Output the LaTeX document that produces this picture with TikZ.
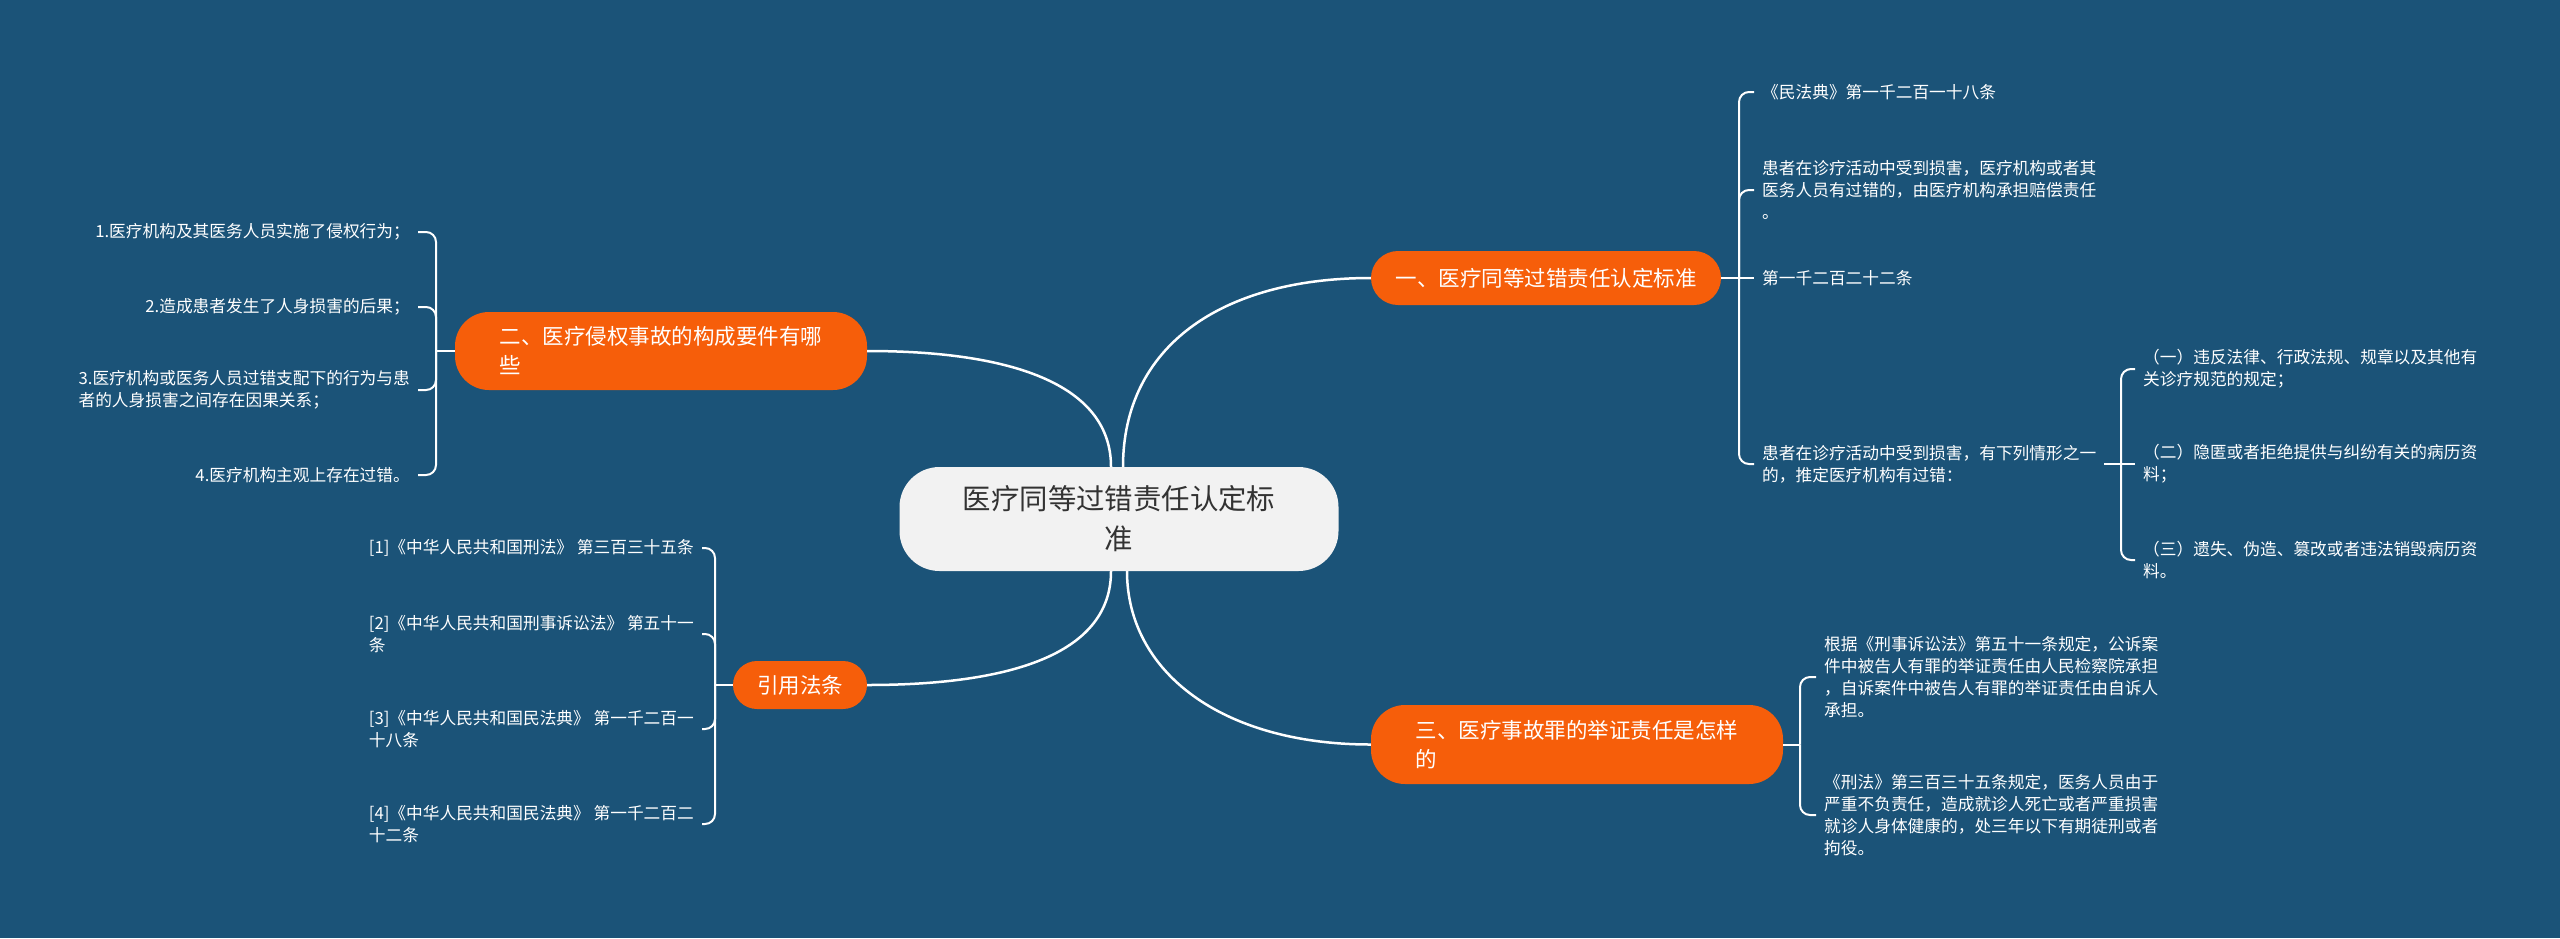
\documentclass[tikz,border=0pt]{standalone}
\usepackage{fontspec}
\setmainfont{Noto Sans CJK SC}
\usetikzlibrary{calc}
\definecolor{bg}{RGB}{27,83,120}
\definecolor{org}{RGB}{246,94,10}
\definecolor{ctr}{RGB}{242,242,242}
\definecolor{ctrtext}{RGB}{51,51,51}
\tikzset{
  root/.style={fill=ctr, text=ctrtext, rounded corners=40pt, minimum width=439pt, minimum height=104pt, align=center, inner sep=0pt, font=\fontsize{28.4}{40}\selectfont},
  topic/.style={fill=org, text=white, align=left, inner sep=0pt, font=\fontsize{21.5}{29}\selectfont},
  leaf/.style={text=white, align=left, inner xsep=8pt, inner ysep=2pt, font=\fontsize{16.7}{22}\selectfont},
  mainline/.style={draw=white, line width=2.5pt},
  brline/.style={draw=white, line width=2pt, rounded corners=10pt},
}
\begin{document}
\begin{tikzpicture}[x=1pt,y=-1pt]
\fill[bg] (0,0) rectangle (2560,938);
\useasboundingbox (0,0) rectangle (2560,938);

% central and main topics
\node[root] (c) at (1119,519) {医疗同等过错责任认定标\\准};
\node[topic, minimum width=350pt, minimum height=54pt, rounded corners=27pt] (t1) at (1546,278) {一、医疗同等过错责任认定标准};
\node[topic, minimum width=412pt, minimum height=78pt, rounded corners=34pt] (t2) at (661,351) {二、医疗侵权事故的构成要件有哪\\些};
\node[topic, minimum width=134pt, minimum height=48pt, rounded corners=24pt] (t4) at (800,685) {引用法条};
\node[topic, minimum width=412pt, minimum height=79pt, rounded corners=34pt] (t3) at (1577,744.5) {三、医疗事故罪的举证责任是怎样\\的};

\draw[mainline] ([xshift=4pt]c.north) .. controls +(0,-120) and +(-150,0) .. (t1.west);
\draw[mainline] ([xshift=-8pt]c.north) .. controls +(0,-80) and +(150,0) .. (t2.east);
\draw[mainline] ([xshift=-8pt]c.south) .. controls +(0,80) and +(150,0) .. (t4.east);
\draw[mainline] ([xshift=8pt]c.south) .. controls +(0,100) and +(-150,0) .. (t3.west);

% branch one
\coordinate (j1) at (1739,278);
\node[leaf, anchor=west] (a1) at (1754,92) {《民法典》第一千二百一十八条};
\node[leaf, anchor=west] (a2) at (1754,190) {患者在诊疗活动中受到损害，医疗机构或者其\\医务人员有过错的，由医疗机构承担赔偿责任\\。};
\node[leaf, anchor=west] (a3) at (1754,278) {第一千二百二十二条};
\node[leaf, anchor=west] (a4) at (1754,464) {患者在诊疗活动中受到损害，有下列情形之一\\的，推定医疗机构有过错：};
\draw[brline] (t1.east) -- (j1);
\draw[brline] (j1) |- (a1.west);
\draw[brline] (j1) |- (a2.west);
\draw[brline] (j1) -- (a3.west);
\draw[brline] (j1) |- (a4.west);

\coordinate (j2) at (2121,464);
\node[leaf, anchor=west] (b1) at (2135,369) {（一）违反法律、行政法规、规章以及其他有\\关诊疗规范的规定；};
\node[leaf, anchor=west] (b2) at (2135,464) {（二）隐匿或者拒绝提供与纠纷有关的病历资\\料；};
\node[leaf, anchor=west] (b3) at (2135,560) {（三）遗失、伪造、篡改或者违法销毁病历资\\料。};
\draw[brline] (a4.east) -- (j2);
\draw[brline] (j2) |- (b1.west);
\draw[brline] (j2) -- (b2.west);
\draw[brline] (j2) |- (b3.west);

% branch three
\coordinate (j3) at (1800,744.5);
\node[leaf, anchor=west] (d1) at (1816,677) {根据《刑事诉讼法》第五十一条规定，公诉案\\件中被告人有罪的举证责任由人民检察院承担\\，自诉案件中被告人有罪的举证责任由自诉人\\承担。};
\node[leaf, anchor=west] (d2) at (1816,815) {《刑法》第三百三十五条规定，医务人员由于\\严重不负责任，造成就诊人死亡或者严重损害\\就诊人身体健康的，处三年以下有期徒刑或者\\拘役。};
\draw[brline] (t3.east) -- (j3);
\draw[brline] (j3) |- (d1.west);
\draw[brline] (j3) |- (d2.west);

% branch two
\coordinate (j4) at (436,351);
\node[leaf, anchor=east] (e1) at (418,232) {1.医疗机构及其医务人员实施了侵权行为；};
\node[leaf, anchor=east] (e2) at (418,307) {2.造成患者发生了人身损害的后果；};
\node[leaf, anchor=east] (e3) at (418,390) {3.医疗机构或医务人员过错支配下的行为与患\\者的人身损害之间存在因果关系；};
\node[leaf, anchor=east] (e4) at (418,475) {4.医疗机构主观上存在过错。};
\draw[brline] (t2.west) -- (j4);
\draw[brline] (j4) |- (e1.east);
\draw[brline] (j4) |- (e2.east);
\draw[brline] (j4) |- (e3.east);
\draw[brline] (j4) |- (e4.east);

% references
\coordinate (j5) at (715,685);
\node[leaf, anchor=east] (f1) at (702,548) {[1]《中华人民共和国刑法》 第三百三十五条};
\node[leaf, anchor=east] (f2) at (702,634) {[2]《中华人民共和国刑事诉讼法》 第五十一\\条};
\node[leaf, anchor=east] (f3) at (702,729) {[3]《中华人民共和国民法典》 第一千二百一\\十八条};
\node[leaf, anchor=east] (f4) at (702,824) {[4]《中华人民共和国民法典》 第一千二百二\\十二条};
\draw[brline] (t4.west) -- (j5);
\draw[brline] (j5) |- (f1.east);
\draw[brline] (j5) |- (f2.east);
\draw[brline] (j5) |- (f3.east);
\draw[brline] (j5) |- (f4.east);
\end{tikzpicture}
\end{document}
